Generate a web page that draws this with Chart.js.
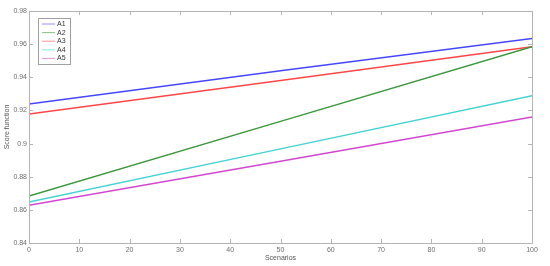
<!DOCTYPE html>
<html lang="en">

<head>
    <meta charset="UTF-8">
    <title>Score function vs Scenarios</title>
    <script src="https://cdn.jsdelivr.net/npm/chart.js"></script>
    <style>
        html, body {
            margin: 0;
            padding: 0;
            background: #fff;
        }

        .wrap {
            width: 550px;
            height: 266px;
            position: relative;
        }
    </style>
</head>

<body>
    <div class="wrap">
        <canvas id="scoreChart"></canvas>
    </div>

    <script>
        // data
        const scenarios = [0, 50, 100];
        const seriesNames = ['A1', 'A2', 'A3', 'A4', 'A5'];
        const a1 = [0.9238, 0.9440, 0.9634];
        const a2 = [0.8684, 0.9134, 0.9584];
        const a3 = [0.9178, 0.9381, 0.9584];
        const a4 = [0.8648, 0.8968, 0.9288];
        const a5 = [0.8628, 0.8894, 0.9161];
        const xTicks = [0, 10, 20, 30, 40, 50, 60, 70, 80, 90, 100];
        const yTicks = [0.84, 0.86, 0.88, 0.9, 0.92, 0.94, 0.96, 0.98];

        const colors = ['#4646ff', '#3c963c', '#ff4646', '#46d2d2', '#d246d2'];
        const axisColor = '#b4b4b4';
        const textColor = '#6e6e6e';
        const fontFam = '"Liberation Sans", Arial, sans-serif';

        const values = [a1, a2, a3, a4, a5];
        const datasets = seriesNames.map((name, i) => ({
            label: name,
            data: scenarios.map((x, j) => ({ x: x, y: values[i][j] })),
            borderColor: colors[i],
            borderWidth: 1.5,
            pointRadius: 0,
            fill: false,
            tension: 0
        }));

        // MATLAB-style box with inward ticks, plus the legend inside the axes
        const boxTicks = {
            id: 'boxTicks',
            afterDraw(chart) {
                const { ctx, chartArea: a, scales } = chart;
                const len = 4;
                ctx.save();
                ctx.strokeStyle = axisColor;
                ctx.lineWidth = 1;
                ctx.beginPath();
                ctx.rect(a.left + 0.5, a.top + 0.5, a.right - a.left, a.bottom - a.top);
                xTicks.forEach(v => {
                    const px = Math.round(scales.x.getPixelForValue(v)) + 0.5;
                    ctx.moveTo(px, a.bottom);
                    ctx.lineTo(px, a.bottom - len);
                    ctx.moveTo(px, a.top);
                    ctx.lineTo(px, a.top + len);
                });
                yTicks.forEach(v => {
                    const py = Math.round(scales.y.getPixelForValue(v)) + 0.5;
                    ctx.moveTo(a.left, py);
                    ctx.lineTo(a.left + len, py);
                    ctx.moveTo(a.right, py);
                    ctx.lineTo(a.right - len, py);
                });
                ctx.stroke();

                const lx = 38, ly = 18, lw = 32, lh = 46;
                ctx.fillStyle = '#fff';
                ctx.fillRect(lx, ly, lw, lh);
                ctx.strokeStyle = '#a0a0a0';
                ctx.strokeRect(lx + 0.5, ly + 0.5, lw, lh);
                ctx.font = '7px ' + fontFam;
                ctx.textBaseline = 'middle';
                chart.data.datasets.forEach((ds, i) => {
                    const y = ly + 6 + i * 8.6;
                    ctx.strokeStyle = ds.borderColor;
                    ctx.globalAlpha = 0.6;
                    ctx.beginPath();
                    ctx.moveTo(lx + 4, y);
                    ctx.lineTo(lx + 17, y);
                    ctx.stroke();
                    ctx.globalAlpha = 1;
                    ctx.fillStyle = '#333';
                    ctx.fillText(ds.label, lx + 19, y);
                });
                ctx.restore();
            }
        };

        const ctx = document.getElementById('scoreChart').getContext('2d');
        const scoreChart = new Chart(ctx, {
            type: 'line',
            data: { datasets: datasets },
            options: {
                responsive: true,
                maintainAspectRatio: false,
                animation: false,
                layout: { padding: { top: 11, right: 18, left: 0, bottom: 0 } },
                plugins: {
                    legend: { display: false },
                    tooltip: { enabled: false }
                },
                scales: {
                    x: {
                        type: 'linear',
                        min: 0,
                        max: 100,
                        afterBuildTicks: s => { s.ticks = xTicks.map(v => ({ value: v })); },
                        afterFit: s => { s.height = 23; },
                        grid: { display: false, drawTicks: false },
                        border: { display: false },
                        ticks: {
                            color: textColor,
                            font: { size: 7, family: fontFam },
                            padding: 3,
                            maxRotation: 0
                        },
                        title: {
                            display: true,
                            text: 'Scenarios',
                            color: '#555',
                            font: { size: 7, family: fontFam },
                            padding: { top: 0, bottom: 4 }
                        }
                    },
                    y: {
                        min: 0.84,
                        max: 0.98,
                        afterBuildTicks: s => { s.ticks = yTicks.map(v => ({ value: v })); },
                        afterFit: s => { s.width = 29; },
                        grid: { display: false, drawTicks: false },
                        border: { display: false },
                        ticks: {
                            color: textColor,
                            font: { size: 7, family: fontFam },
                            padding: 2,
                            callback: v => String(Math.round(v * 100) / 100)
                        },
                        title: {
                            display: true,
                            text: 'Score function',
                            color: '#555',
                            font: { size: 7, family: fontFam },
                            padding: { top: 3, bottom: 0 }
                        }
                    }
                }
            },
            plugins: [boxTicks]
        });
    </script>

</body>

</html>
